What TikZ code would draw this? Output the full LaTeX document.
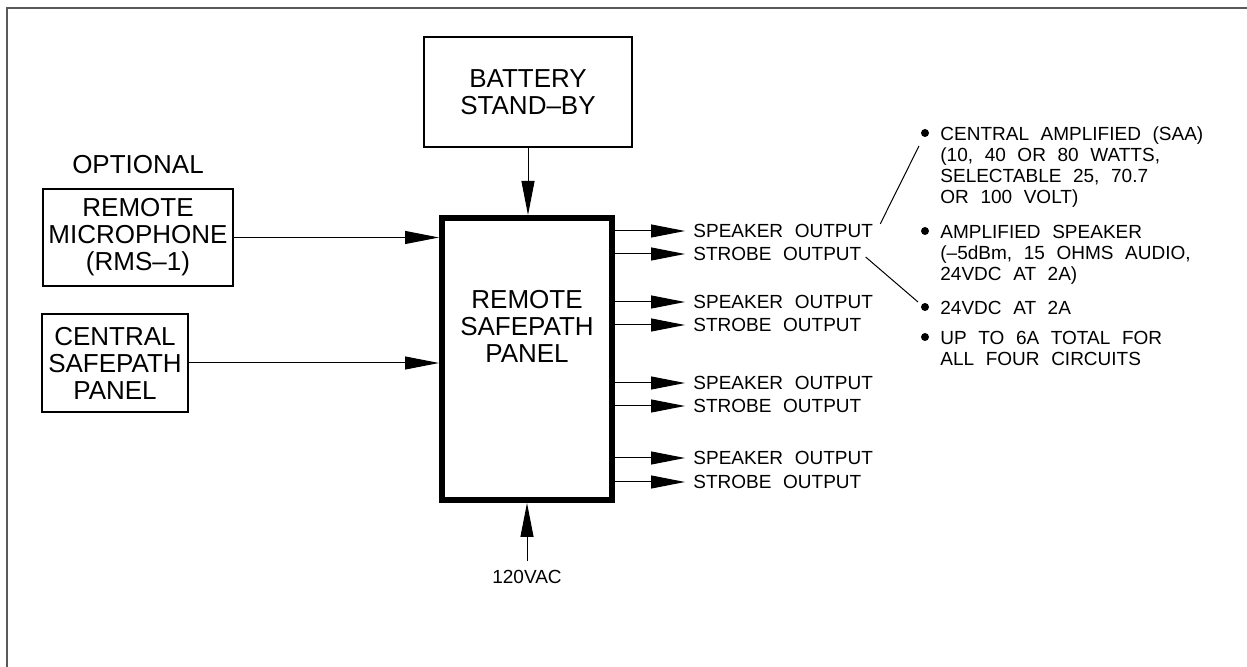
\documentclass[tikz,border=0pt]{standalone}
\usepackage{fontspec}
\newfontfamily\cadfont{Liberation Sans}[WordSpace=2.2]
\usetikzlibrary{arrows.meta, positioning}

\begin{document}
\begin{tikzpicture}[
  x=0.5pt, y=-0.5pt,
  block/.style={rectangle, draw, line width=0.7pt, align=center, inner sep=0pt, font=\cadfont\fontsize{13}{13.5}\selectfont},
  small/.style={inner sep=0pt, font=\cadfont\fontsize{9.5}{10.5}\selectfont},
  note/.style={small, align=left, anchor=north west},
  dot/.style={circle, fill, inner sep=0pt, minimum size=4pt},
  arr/.style={-{Triangle[length=17pt, width=6.5pt]}, line width=0.5pt},
  lead/.style={line width=0.5pt},
]
\useasboundingbox (0,0) rectangle (1247,667);
\draw[line width=1pt, black!65] (1247,8) -- (7,8) -- (7,667);

% inputs
\node[block, minimum width=104pt, minimum height=55pt] (battery) at (528,92) {BATTERY\\STAND\textendash BY};
\node[block, line width=3pt, minimum width=85pt, minimum height=141pt] (panel) at (527,359) {};
\node[block, draw=none] (paneltext) at (527,326) {REMOTE\\SAFEPATH\\PANEL};
\node[block, minimum width=95pt, minimum height=48.5pt] (mic) at (138,237.5) {REMOTE\\MICROPHONE\\(RMS\textendash 1)};
\node[block, draw=none, above=7pt of mic] (optional) {OPTIONAL};
\node[block, minimum width=73pt, minimum height=49pt] (central) at (115,363) {CENTRAL\\SAFEPATH\\PANEL};
\node[small] (ac) at (527,577) {120VAC};

\draw[arr] (battery) -- (battery |- panel.north);
\draw[arr] (mic) -- (mic -| panel.west);
\draw[arr] (central) -- (central -| panel.west);
\draw[arr] ([yshift=4.5pt]ac.north) -- (ac.north |- panel.south);

% outputs
\foreach \i/\y/\t in {1/231/SPEAKER OUTPUT, 2/254/STROBE OUTPUT, 3/302/SPEAKER OUTPUT, 4/325/STROBE OUTPUT,
                      5/383/SPEAKER OUTPUT, 6/406/STROBE OUTPUT, 7/458/SPEAKER OUTPUT, 8/482/STROBE OUTPUT} {
  \node[small, anchor=west] (out\i) at (693,\y) {\t};
  \draw[arr] (panel.east |- out\i) -- ([xshift=-4pt]out\i.west);
}

% notes
\node[dot] (dot1) at (925,133) {};
\node[note] (note1) at (940,126.5) {CENTRAL AMPLIFIED (SAA)\\(10, 40 OR 80 WATTS,\\SELECTABLE 25, 70.7\\OR 100 VOLT)};
\node[dot] (dot2) at (925,231) {};
\node[note] (note2) at (940,224.5) {AMPLIFIED SPEAKER\\(\textendash 5dBm, 15 OHMS AUDIO,\\24VDC AT 2A)};
\node[dot] (dot3) at (925,307) {};
\node[note] (note3) at (940,300.5) {24VDC AT 2A};
\node[dot] (dot4) at (925,337) {};
\node[note] (note4) at (940,330.5) {UP TO 6A TOTAL FOR\\ALL FOUR CIRCUITS};

\draw[lead] ([xshift=3.5pt]out1.north east) -- ([xshift=-3pt,yshift=-6.5pt]dot1.center);
\draw[lead] ([xshift=2pt,yshift=-1.5pt]out2.east) -- ([xshift=-3.5pt,yshift=2.5pt]dot3.center);
\end{tikzpicture}
\end{document}
